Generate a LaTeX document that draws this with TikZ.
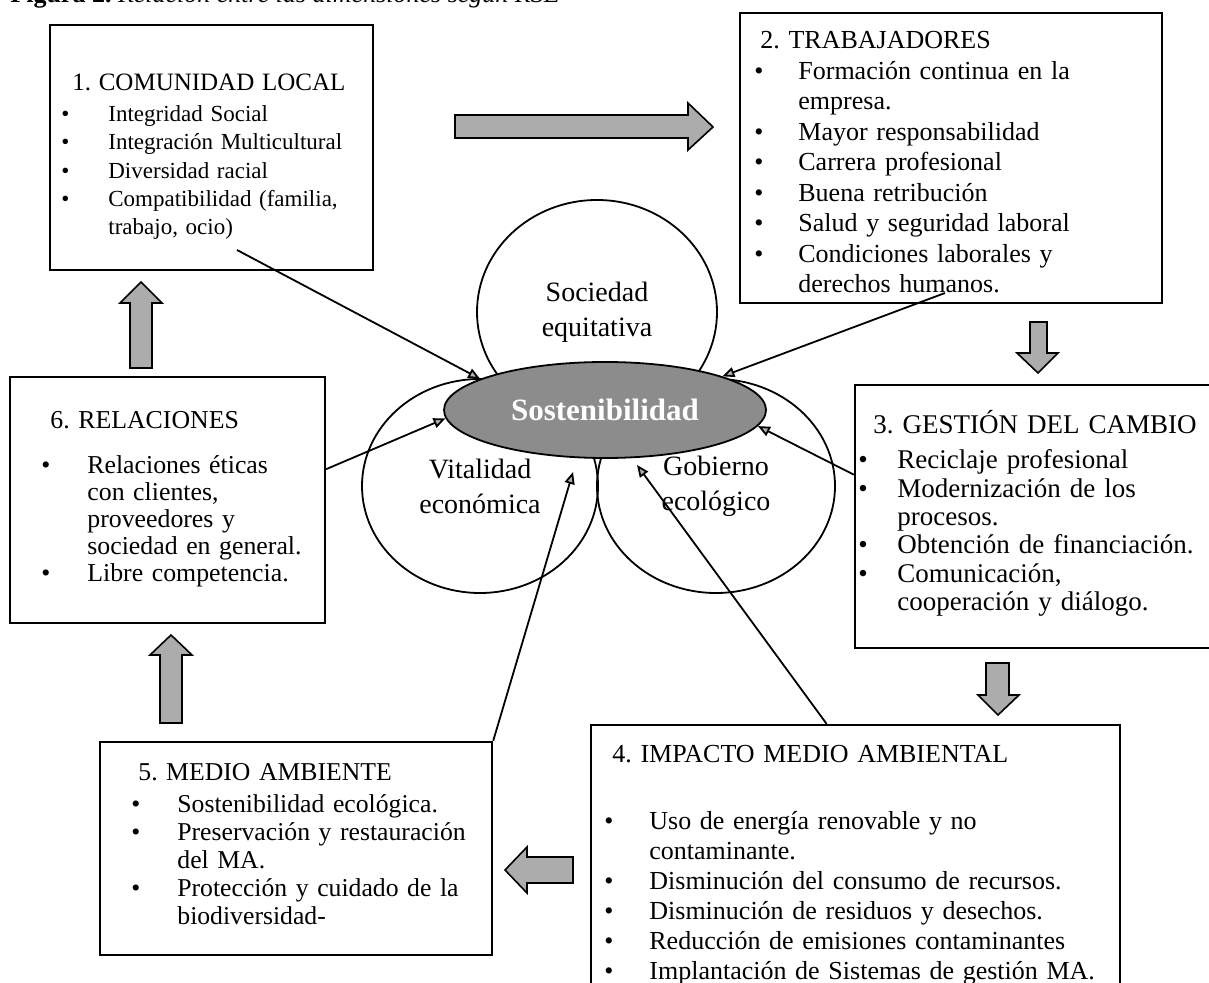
\documentclass[tikz,border=0pt]{standalone}
\usepackage{fontspec}
\setmainfont{Liberation Serif}
\usetikzlibrary{positioning, arrows.meta, shapes}
\frenchspacing

\newlength{\sangria}
\newcommand{\pto}{\makebox[\sangria][l]{\textbullet}}
\newcommand{\sig}{\hspace*{\sangria}}

\begin{document}
\begin{tikzpicture}[x=0.5pt, y=-0.5pt,
  caja/.style={draw, line width=1.2pt, rectangle, inner sep=0pt},
  texto/.style={anchor=base west, inner sep=0pt, align=left, text width=300pt},
  circulo/.style={draw, ellipse, line width=0.9pt, inner sep=0pt, align=center,
    font=\fontsize{14pt}{17.5pt}\selectfont},
  bloque/.style={draw, line width=0.8pt, fill=gray!65},
  flecha/.style={-{Triangle[length=6pt, width=5pt, fill=gray!60]}, line width=0.9pt}]

\useasboundingbox (0,0) rectangle (1209,983);
\fill[white] (0,0) rectangle (1209,983);
\clip (0,0) rectangle (1209,983);

\node[anchor=base west, inner sep=0pt, font=\fontsize{13pt}{15pt}\selectfont] (titulo) at (10,3)
  {\textbf{Figura 2.} \textit{Relación entre las dimensiones según RSE}};

\node[circulo, minimum width=120pt, minimum height=112pt] (sociedad) at (597,312) {Sociedad\\equitativa};
\node[circulo, minimum width=118pt, minimum height=107pt] (vitalidad) at (480,486) {Vitalidad\\económica};
\node[circulo, minimum width=119pt, minimum height=107pt] (gobierno) at (716,486) {Gobierno\\ecológico};

\node[ellipse, draw, line width=0.9pt, fill=gray!90, inner sep=0pt, minimum width=161pt,
  minimum height=48pt, text=white, font=\fontsize{15.5pt}{18pt}\selectfont\bfseries]
  (sost) at (605,410) {Sostenibilidad};

\node[caja, minimum width=161.5pt, minimum height=122.5pt] (comunidad) at (211.5,147.5) {};
\node[caja, minimum width=211pt, minimum height=145pt] (trabajadores) at (951,158) {};
\node[caja, minimum width=180pt, minimum height=131.5pt] (cambio) at (1035,516.5) {};
\node[caja, minimum width=264.5pt, minimum height=135pt] (impacto) at (855.5,860) {};
\node[caja, minimum width=196pt, minimum height=106.5pt] (medio) at (296,848.5) {};
\node[caja, minimum width=157.5pt, minimum height=123pt] (relaciones) at (167.5,500) {};

\node[texto, font=\fontsize{11.5pt}{14.2pt}\selectfont] (comunidadtxt) at (61,91)
  {\setlength{\sangria}{23.5pt}%
   \hspace*{5.5pt}{\fontsize{12.5pt}{14.2pt}\selectfont 1. COMUNIDAD LOCAL}\\[1pt]
   \pto Integridad Social\\
   \pto Integración Multicultural\\
   \pto Diversidad racial\\
   \pto Compatibilidad (familia,\\
   \sig trabajo, ocio)};

\node[texto, font=\fontsize{13pt}{15.25pt}\selectfont] (trabajadorestxt) at (754,49)
  {\setlength{\sangria}{22pt}%
   \hspace*{3pt}2. TRABAJADORES\\
   \pto Formación continua en la\\
   \sig empresa.\\
   \pto Mayor responsabilidad\\
   \pto Carrera profesional\\
   \pto Buena retribución\\
   \pto Salud y seguridad laboral\\
   \pto Condiciones laborales y\\
   \sig derechos humanos.};

\node[texto, font=\fontsize{13.5pt}{14.15pt}\selectfont] (cambiotxt) at (858,434)
  {\setlength{\sangria}{19.5pt}%
   \hspace*{7.5pt}3. GESTIÓN DEL CAMBIO\\[3.3pt]
   \pto Reciclaje profesional\\
   \pto Modernización de los\\
   \sig procesos.\\
   \pto Obtención de financiación.\\
   \pto Comunicación,\\
   \sig cooperación y diálogo.};

\node[texto, font=\fontsize{13pt}{15pt}\selectfont] (impactotxt) at (604,762)
  {\setlength{\sangria}{22.5pt}%
   \hspace*{4pt}4. IMPACTO MEDIO AMBIENTAL\\[18.5pt]
   \pto Uso de energía renovable y no\\
   \sig contaminante.\\
   \pto Disminución del consumo de recursos.\\
   \pto Disminución de residuos y desechos.\\
   \pto Reducción de emisiones contaminantes\\
   \pto Implantación de Sistemas de gestión MA.};

\node[texto, font=\fontsize{12.85pt}{14pt}\selectfont] (mediotxt) at (131,780)
  {\setlength{\sangria}{23pt}%
   \hspace*{3.5pt}5. MEDIO AMBIENTE\\[2pt]
   \pto Sostenibilidad ecológica.\\
   \pto Preservación y restauración\\
   \sig del MA.\\
   \pto Protección y cuidado de la\\
   \sig biodiversidad-};

\node[texto, font=\fontsize{12.9pt}{13.5pt}\selectfont] (relacionestxt) at (41,429)
  {\setlength{\sangria}{23pt}%
   \hspace*{4.5pt}6. RELACIONES\\[9pt]
   \pto Relaciones éticas\\
   \sig con clientes,\\
   \sig proveedores y\\
   \sig sociedad en general.\\
   \pto Libre competencia.};

\draw[bloque] (455,115) -- (688,115) -- (688,103) -- (713,127) -- (688,150) -- (688,138) -- (455,138) -- cycle;
\draw[bloque] (1030,322) -- (1030,353) -- (1017,353) -- (1038,373) -- (1058,353) -- (1047,353) -- (1047,322) -- cycle;
\draw[bloque] (986,663) -- (986,695) -- (978,695) -- (998,715) -- (1019,695) -- (1009,695) -- (1009,663) -- cycle;
\draw[bloque] (573,857) -- (527,857) -- (527,847) -- (505,870) -- (527,893) -- (527,883) -- (573,883) -- cycle;
\draw[bloque] (160,723) -- (160,655) -- (150,655) -- (171,635) -- (192,655) -- (182,655) -- (182,723) -- cycle;
\draw[bloque] (130,368) -- (130,303) -- (120,303) -- (141,282) -- (162,303) -- (152,303) -- (152,368) -- cycle;

\coordinate (ini1) at (237,250);
\coordinate (ini2) at (945,293);
\coordinate (fin5) at (573,472);
\coordinate (fin4) at (637,465);

\draw[flecha] (ini1) -- (sost.166);
\draw[flecha] (ini2) -- (sost.16);
\draw[flecha] (cambio.167.6) -- (sost.-6.5);
\draw[flecha] (impacto.102.7) -- (fin4);
\draw[flecha] (medio.north east) -- (fin5);
\draw[flecha] (relaciones.11.5) -- (sost.-177);

\end{tikzpicture}
\end{document}
